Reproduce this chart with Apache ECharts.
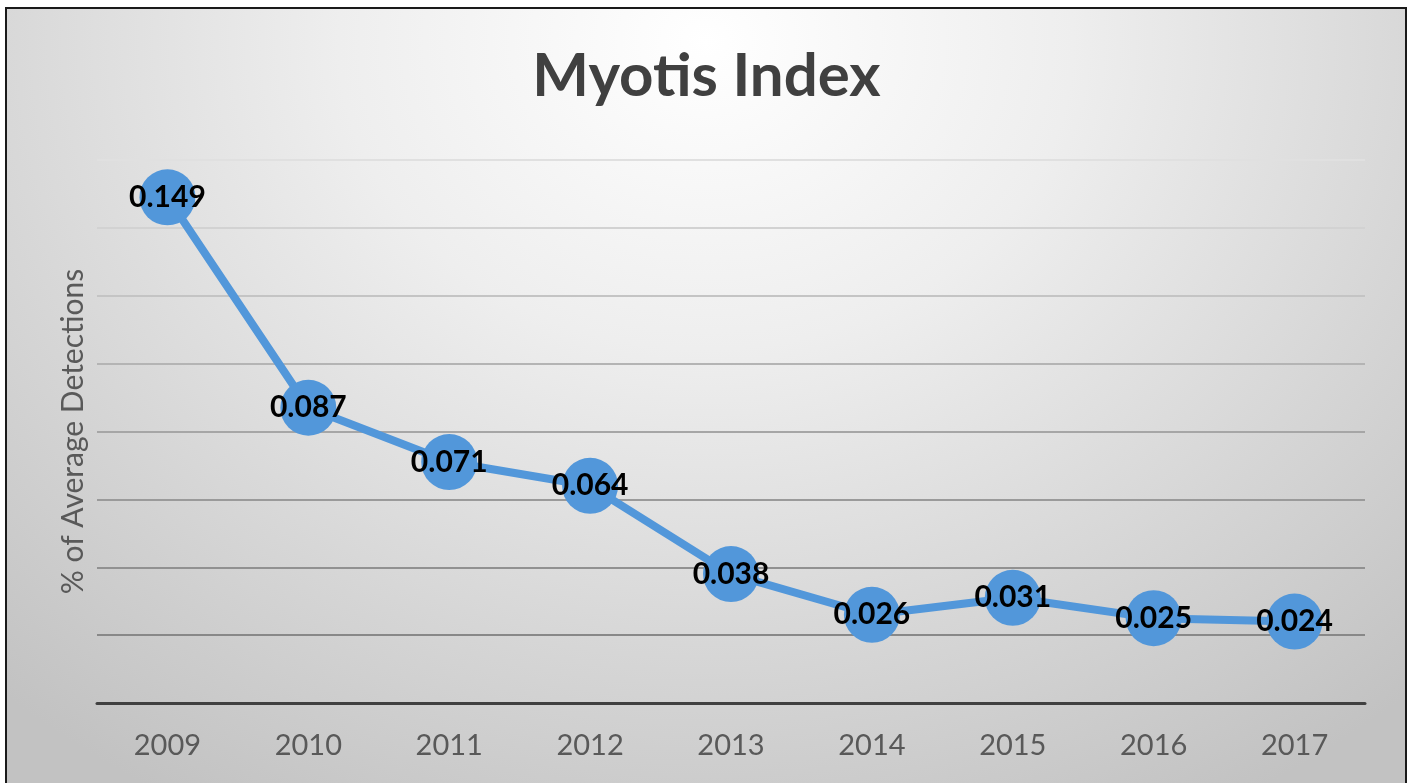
<!DOCTYPE html>
<html>
<head>
<meta charset="utf-8">
<script src="https://cdn.jsdelivr.net/npm/echarts@6/dist/echarts.min.js"></script>
<style>
  html, body { margin: 0; padding: 0; background: #fff; }
  #frame {
    position: absolute; left: 5px; top: 7px; width: 1398px; height: 800px;
    border: 2px solid #1a1a1a;
    background: radial-gradient(ellipse 75% 110% at 50% 4%, #ffffff 0%, #eeeeee 35%, #d6d6d6 70%, #c2c2c2 100%);
  }
  #chart { position: absolute; left: 0; top: 0; width: 1413px; height: 783px; }
</style>
</head>
<body>
<div id="frame"></div>
<div id="chart"></div>
<script>
// data
const years = ['2009', '2010', '2011', '2012', '2013', '2014', '2015', '2016', '2017'];
const indexValues = [0.149, 0.087, 0.071, 0.064, 0.038, 0.026, 0.031, 0.025, 0.024];

// gridlines fade out towards the top (bottom -> top)
const gridColors = ['#8a8a8a', '#888888', '#919191', '#9a9a9a', '#a6a6a6', '#b4b4b4', '#c4c4c4', '#d2d2d2', '#e0e0e0'];

const font = 'Lato, "Open Sans", sans-serif';

const chart = echarts.init(document.getElementById('chart'), null, { renderer: 'canvas' });

chart.setOption({
  backgroundColor: 'transparent',
  animation: false,
  title: {
    text: 'Myotis Index',
    left: 'center',
    top: 42,
    textStyle: { color: '#404040', fontSize: 60, fontWeight: 'bold', fontFamily: font },
  },
  grid: { left: 97, right: 48, top: 160, bottom: 80 },
  xAxis: {
    type: 'category',
    data: years,
    boundaryGap: true,
    axisLine: { lineStyle: { color: '#404040', width: 3 } },
    axisTick: { show: false },
    axisLabel: { color: '#595959', fontSize: 29, fontFamily: font, margin: 28 },
    z: 1,
  },
  yAxis: {
    type: 'value',
    min: 0,
    max: 0.16,
    interval: 0.02,
    name: '% of Average Detections',
    nameLocation: 'middle',
    nameGap: 9,
    nameTextStyle: { color: '#595959', fontSize: 30, fontFamily: font },
    axisLine: { show: false },
    axisTick: { show: false },
    axisLabel: { show: false },
    splitLine: { lineStyle: { color: gridColors, width: 2 } },
  },
  series: [
    {
      type: 'line',
      data: indexValues,
      symbol: 'circle',
      symbolSize: 56,
      lineStyle: { color: '#5297DA', width: 8 },
      itemStyle: { color: '#5297DA' },
      label: {
        show: true,
        position: 'inside',
        color: '#000',
        fontSize: 30,
        fontWeight: 'bold',
        fontFamily: font,
        formatter: (p) => p.value.toFixed(3),
      },
      z: 3,
    },
  ],
});
</script>
</body>
</html>
